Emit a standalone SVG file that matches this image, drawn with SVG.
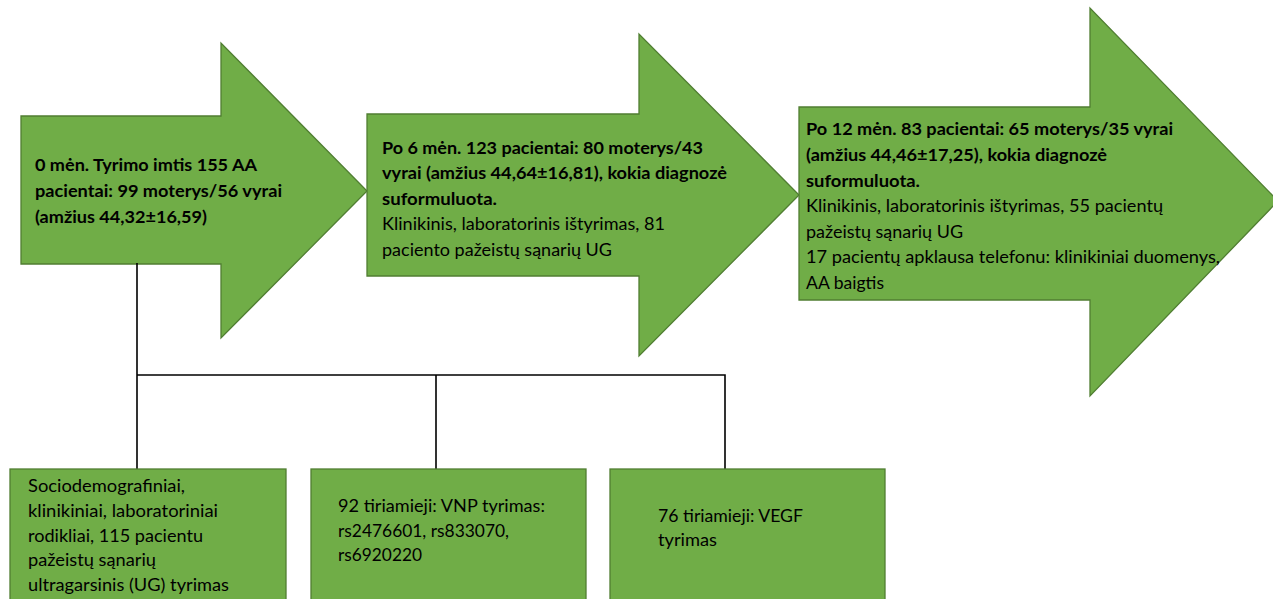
<svg xmlns="http://www.w3.org/2000/svg" width="1273" height="599" viewBox="0 0 1273 599">
<style>
.shape{fill:#70AD47;stroke:#507E32;stroke-width:1.3}
.conn{fill:none;stroke:#000;stroke-width:1.6}
.t{font-family:Lato,"Open Sans","Liberation Sans",sans-serif;font-size:17px;fill:#000}
.b{font-weight:bold}
.s{font-family:Lato,"Open Sans","Liberation Sans",sans-serif;font-size:17px;fill:#000}
</style>
<rect width="1273" height="599" fill="#fff"/>
<g id="arrow1">
<polygon class="shape" points="21,116 221,116 221,43 367,191 221,338 221,264 21,264"/>
<text class="t b" x="35" y="171" textLength="222" lengthAdjust="spacingAndGlyphs">0 mėn. Tyrimo imtis 155 AA</text>
<text class="t b" x="35" y="197" textLength="247" lengthAdjust="spacingAndGlyphs">pacientai: 99 moterys/56 vyrai</text>
<text class="t b" x="35" y="223" textLength="172" lengthAdjust="spacingAndGlyphs">(amžius 44,32±16,59)</text>
</g>
<g id="arrow2">
<polygon class="shape" points="367,114 639,114 639,34 799,195 639,356 639,276 367,276"/>
<text class="t b" x="382" y="154" textLength="321" lengthAdjust="spacingAndGlyphs">Po 6 mėn. 123 pacientai: 80 moterys/43</text>
<text class="t b" x="382" y="179" textLength="345" lengthAdjust="spacingAndGlyphs">vyrai (amžius 44,64±16,81), kokia diagnozė</text>
<text class="t b" x="382" y="205" textLength="115" lengthAdjust="spacingAndGlyphs">suformuluota.</text>
<text class="t" x="382" y="230" textLength="283" lengthAdjust="spacingAndGlyphs">Klinikinis, laboratorinis ištyrimas, 81</text>
<text class="t" x="382" y="256" textLength="230" lengthAdjust="spacingAndGlyphs">paciento pažeistų sąnarių UG</text>
</g>
<g id="arrow3">
<polygon class="shape" points="799,107 1090,107 1090,8 1278,201 1090,396 1090,300 799,300"/>
<text class="t b" x="806" y="135" textLength="367" lengthAdjust="spacingAndGlyphs">Po 12 mėn. 83 pacientai: 65 moterys/35 vyrai</text>
<text class="t b" x="806" y="161" textLength="301" lengthAdjust="spacingAndGlyphs">(amžius 44,46±17,25), kokia diagnozė</text>
<text class="t b" x="806" y="187" textLength="114" lengthAdjust="spacingAndGlyphs">suformuluota.</text>
<text class="t" x="806" y="212" textLength="357" lengthAdjust="spacingAndGlyphs">Klinikinis, laboratorinis ištyrimas, 55 pacientų</text>
<text class="t" x="806" y="238" textLength="157" lengthAdjust="spacingAndGlyphs">pažeistų sąnarių UG</text>
<text class="t" x="806" y="263" textLength="414" lengthAdjust="spacingAndGlyphs">17 pacientų apklausa telefonu: klinikiniai duomenys,</text>
<text class="t" x="806" y="289" textLength="78" lengthAdjust="spacingAndGlyphs">AA baigtis</text>
</g>
<g id="connectors">
<path class="conn" d="M137,263 V469 M137,375 H725 V469 M436,375 V469"/>
</g>
<g id="box1">
<rect class="shape" x="10" y="469" width="276" height="160"/>
<text class="s" x="28" y="492" textLength="157" lengthAdjust="spacingAndGlyphs">Sociodemografiniai,</text>
<text class="s" x="28" y="517" textLength="190" lengthAdjust="spacingAndGlyphs">klinikiniai, laboratoriniai</text>
<text class="s" x="28" y="542" textLength="175" lengthAdjust="spacingAndGlyphs">rodikliai, 115 pacientu</text>
<text class="s" x="28" y="566" textLength="128" lengthAdjust="spacingAndGlyphs">pažeistų sąnarių</text>
<text class="s" x="28" y="591" textLength="201" lengthAdjust="spacingAndGlyphs">ultragarsinis (UG) tyrimas</text>
</g>
<g id="box2">
<rect class="shape" x="311" y="469" width="275" height="160"/>
<text class="s" x="338" y="512" textLength="207" lengthAdjust="spacingAndGlyphs">92 tiriamieji: VNP tyrimas:</text>
<text class="s" x="338" y="537" textLength="171" lengthAdjust="spacingAndGlyphs">rs2476601, rs833070,</text>
<text class="s" x="338" y="561" textLength="84" lengthAdjust="spacingAndGlyphs">rs6920220</text>
</g>
<g id="box3">
<rect class="shape" x="610" y="469" width="275" height="160"/>
<text class="s" x="658" y="522" textLength="145" lengthAdjust="spacingAndGlyphs">76 tiriamieji: VEGF</text>
<text class="s" x="658" y="546" textLength="59" lengthAdjust="spacingAndGlyphs">tyrimas</text>
</g>
</svg>
